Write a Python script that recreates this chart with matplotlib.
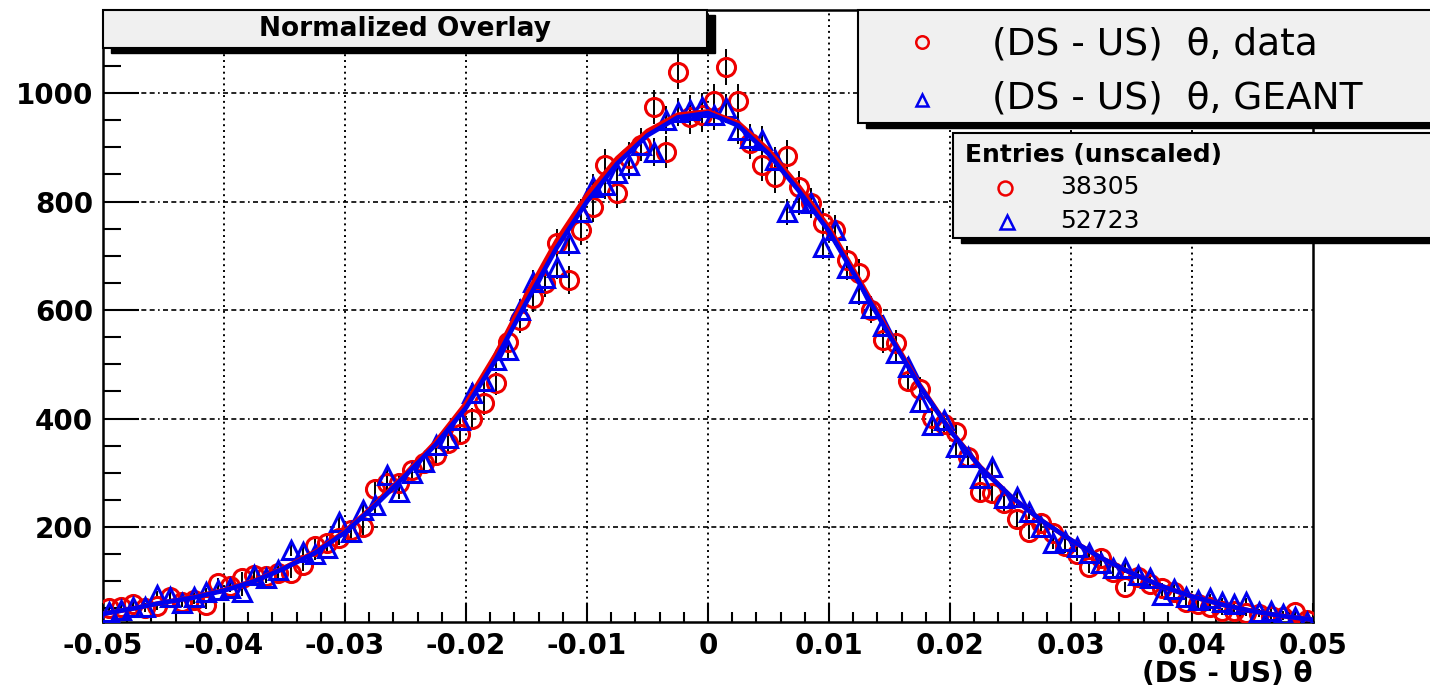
import numpy as np
import matplotlib
matplotlib.use("Agg")
import matplotlib.pyplot as plt
from matplotlib.patches import Rectangle
from matplotlib.ticker import MultipleLocator, FuncFormatter

# histogram binning: 100 bins of 0.001 between -0.05 and 0.05
bin_centres = np.arange(-0.0495, 0.0496, 0.001)

# (DS - US) theta, data (normalized)
data_counts = [
    50, 52, 58, 50, 54, 72, 62, 66, 56, 96,
    92, 107, 112, 110, 115, 116, 130, 165, 170, 180,
    194, 200, 270, 281, 282, 305, 318, 333, 355, 372,
    400, 428, 465, 541, 582, 622, 650, 723, 655, 747,
    790, 867, 816, 880, 905, 974, 891, 1039, 955, 959,
    985, 1048, 985, 908, 867, 845, 884, 827, 797, 760,
    748, 692, 668, 600, 545, 540, 470, 455, 401, 390,
    375, 329, 265, 262, 244, 215, 191, 207, 189, 165,
    150, 126, 143, 118, 89, 108, 95, 88, 80, 62,
    58, 52, 45, 45, 42, 40, 36, 34, 43, 28,
]

# (DS - US) theta, GEANT (normalized)
geant_counts = [
    43, 48, 53, 53, 75, 72, 60, 72, 80, 84,
    88, 80, 112, 106, 120, 158, 154, 150, 161, 209,
    190, 231, 240, 296, 265, 300, 320, 351, 364, 397,
    447, 470, 508, 526, 600, 652, 659, 680, 723, 781,
    827, 830, 852, 867, 904, 891, 950, 965, 969, 974,
    959, 972, 932, 917, 913, 876, 781, 800, 797, 716,
    748, 677, 631, 604, 570, 520, 495, 430, 388, 397,
    347, 330, 290, 311, 253, 255, 228, 200, 170, 175,
    163, 152, 134, 124, 124, 112, 106, 75, 85, 72,
    66, 69, 62, 58, 62, 43, 45, 40, 35, 25,
]

# fitted curves, sampled every 0.0025
fit_x = np.linspace(-0.05, 0.05, 41)
fit_data = [
    40, 50, 61, 71, 84, 101, 125, 154, 192, 242,
    298, 357, 428, 520, 628, 728, 812, 880, 930, 960,
    966, 945, 895, 828, 752, 656, 557, 462, 379, 311,
    257, 213, 176, 143, 115, 91, 72, 57, 45, 36, 29,
]
fit_geant = [
    40, 50, 61, 70, 83, 100, 124, 152, 190, 240,
    295, 352, 420, 510, 615, 715, 800, 870, 922, 955,
    963, 940, 888, 820, 745, 650, 553, 460, 378, 310,
    257, 213, 176, 143, 115, 91, 72, 57, 45, 36, 29,
]

entries_data = 38305
entries_geant = 52723
# scale factor for error bars (err = sqrt(scale * y))
scale_data = 1.0
scale_geant = scale_data * entries_data / entries_geant

plt.rcParams['font.family'] = 'DejaVu Sans'
plt.rcParams['axes.unicode_minus'] = False

W, H = 1430, 686
fig = plt.figure(figsize=(W / 100, H / 100), dpi=100)
ax = fig.add_axes([103 / W, 1 - 622 / H, 1210 / W, 612 / H])

x = bin_centres
yd = np.array(data_counts, dtype=float)
yg = np.array(geant_counts, dtype=float)

ax.errorbar(x, yd, yerr=np.sqrt(scale_data * yd), fmt='none', ecolor='black', elinewidth=1.4, zorder=2)
ax.errorbar(x, yg, yerr=np.sqrt(scale_geant * yg), fmt='none', ecolor='black', elinewidth=1.4, zorder=2)
ax.plot(x, yd, 'o', ms=13, mfc='none', mec='#ee0000', mew=2.2, zorder=3)
ax.plot(x, yg, '^', ms=13, mfc='none', mec='#0000ee', mew=2.2, zorder=4)
ax.plot(fit_x, fit_data, '-', color='#ee0000', lw=3.4, zorder=5)
ax.plot(fit_x, fit_geant, '-', color='#0000ee', lw=3.4, zorder=6)

ax.set_xlim(-0.05, 0.05)
ax.set_ylim(25, 1153)


def xfmt(v, p):
    v = round(v, 3)
    if abs(v) < 1e-9:
        return '0'
    return '%g' % v


ax.xaxis.set_major_locator(MultipleLocator(0.01))
ax.xaxis.set_minor_locator(MultipleLocator(0.002))
ax.yaxis.set_major_locator(MultipleLocator(200))
ax.yaxis.set_minor_locator(MultipleLocator(50))
ax.xaxis.set_major_formatter(FuncFormatter(xfmt))
ax.yaxis.set_major_formatter(FuncFormatter(lambda v, p: '%d' % v))

ax.tick_params(axis='x', which='major', direction='in', length=13.5, width=1.5, pad=7)
ax.tick_params(axis='x', which='minor', direction='in', length=7, width=1.5)
ax.tick_params(axis='y', which='major', direction='in', length=26, width=1.5, pad=7)
ax.tick_params(axis='y', which='minor', direction='in', length=13, width=1.5)
for lab in ax.get_xticklabels() + ax.get_yticklabels():
    lab.set_fontsize(20)
    lab.set_fontweight('bold')

for s in ax.spines.values():
    s.set_linewidth(1.8)

for gx in [-0.04, -0.03, -0.02, -0.01, 0, 0.01, 0.02, 0.03, 0.04]:
    ax.axvline(gx, color='black', lw=1.4, ls=(0, (1, 2)), zorder=1)
for gy in [200, 400, 600, 800, 1000]:
    ax.axhline(gy, color='black', lw=1.2, ls=(0, (3, 2, 3, 2, 3, 2, 1, 2)), zorder=1)

ax.set_xlabel('(DS - US) θ', loc='right', fontsize=20, fontweight='bold', labelpad=0)

# overlay in pixel coordinates for the ROOT style boxes
ov = fig.add_axes([0, 0, 1, 1])
ov.set_xlim(0, W)
ov.set_ylim(H, 0)
ov.axis('off')


def shadow_box(x0, y0, x1, y1):
    ov.add_patch(Rectangle((x0 + 8, y0 + 5), x1 - x0, y1 - y0, fc='black', ec='black', lw=1))
    ov.add_patch(Rectangle((x0, y0), x1 - x0, y1 - y0, fc='#f0f0f0', ec='black', lw=1.5))


shadow_box(103, 10, 707, 48)
ov.text(405, 29, 'Normalized Overlay', fontsize=19, fontweight='bold', ha='center', va='center')

shadow_box(858, 10, 1445, 123)
ov.plot([922], [42], 'o', ms=9, mfc='none', mec='#ee0000', mew=1.8)
ov.plot([922], [100], '^', ms=9, mfc='none', mec='#0000ee', mew=1.8)
ov.text(992, 44, '(DS - US)  θ, data', fontsize=27, ha='left', va='center')
ov.text(992, 98, '(DS - US)  θ, GEANT', fontsize=27, ha='left', va='center')

shadow_box(953, 133, 1445, 238)
ov.text(965, 155, 'Entries (unscaled)', fontsize=18, fontweight='bold', ha='left', va='center')
ov.plot([1005], [188], 'o', ms=10, mfc='none', mec='#ee0000', mew=1.8)
ov.plot([1007], [222], '^', ms=10, mfc='none', mec='#0000ee', mew=1.8)
ov.text(1060, 187, '%d' % entries_data, fontsize=18, ha='left', va='center')
ov.text(1060, 221, '%d' % entries_geant, fontsize=18, ha='left', va='center')

fig.savefig('out.png', dpi=100)
